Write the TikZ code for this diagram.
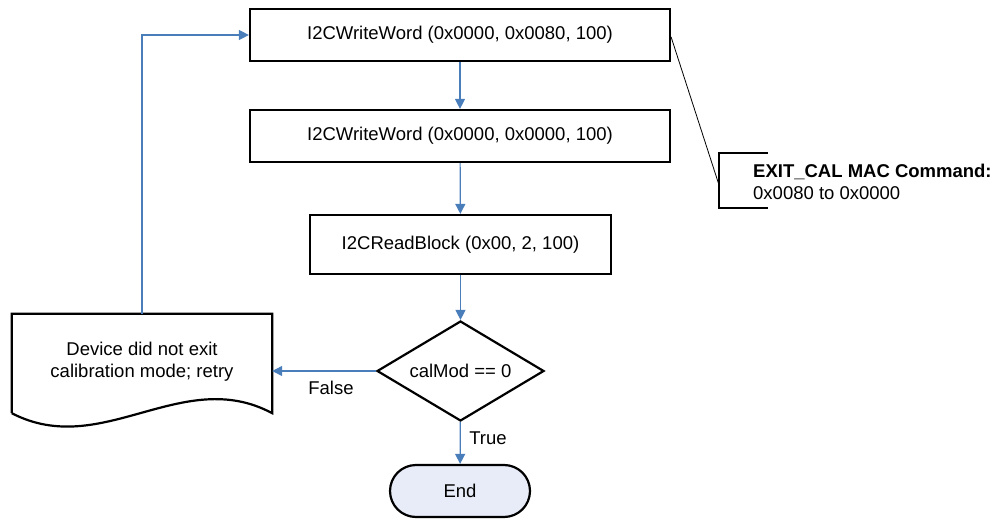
\documentclass[tikz,border=0pt]{standalone}
\usepackage{fontspec}
\setmainfont{Liberation Sans}
\usetikzlibrary{shapes.geometric,arrows.meta}
\definecolor{flowblue}{RGB}{74,126,187}
\definecolor{endfill}{RGB}{232,236,248}
\tikzset{
  procbox/.style={draw=black,line width=2.2pt,rectangle,inner sep=0pt},
  flow/.style={draw=flowblue,line width=1.2pt,-{Triangle[length=10pt,width=10pt]}},
  lbl/.style={inner sep=0pt,font=\fontsize{18.5}{21.5}\selectfont},
}
\begin{document}
\begin{tikzpicture}[x=1pt,y=-1pt,font=\fontsize{18.5}{21.5}\selectfont]
\useasboundingbox (0,0) rectangle (998,521);
\node[procbox,minimum width=420pt,minimum height=52pt] (b1) at (460,35) {I2CWriteWord (0x0000, 0x0080, 100)};
\node[procbox,minimum width=420pt,minimum height=52pt] (b2) at (460,136) {I2CWriteWord (0x0000, 0x0000, 100)};
\node[procbox,minimum width=301pt,minimum height=59pt] (b3) at (460.5,244.5) {I2CReadBlock (0x00, 2, 100)};
\node[diamond,draw=black,line width=2.2pt,inner sep=0pt,aspect=1.67,minimum width=167pt,minimum height=100pt] (dec) at (460.5,371) {calMod == 0};
\node[draw=black,fill=endfill,line width=2.2pt,rounded corners=26pt,minimum width=140pt,minimum height=52pt,inner sep=0pt] (endn) at (460,491) {End};
% document shape
\node[minimum width=260pt,minimum height=99pt,inner sep=0pt] (doc) at (142,363.5) {};
\draw[line width=2.2pt,line join=miter] (doc.south west) -- (doc.north west) -- (doc.north east) -- (doc.south east)
  .. controls (182,365) and (102,460) .. (doc.south west);
\node[lbl,align=center] (doctext) at (142,361.5) {Device did not exit\\calibration mode; retry};
% connectors
\draw[flow] (b1) -- (b2);
\draw[flow] (b2) -- (b3);
\draw[flow] (b3) -- (dec);
\draw[flow] (dec) -- (endn);
\draw[flow] (dec.west) -- (dec.west -| doc.east);
\draw[flow] (doc.north) |- (b1.west);
\node[lbl] (flab) at (331,388) {False};
\node[lbl] (tlab) at (488,438) {True};
% annotation
\coordinate (brtop) at (768,153);
\coordinate (brbot) at (768,208);
\coordinate (brmid) at (719,185);
\draw[line width=2.2pt] (brtop) -- (719,153) -- (719,208) -- (brbot);
\draw[line width=0.8pt] (b1.east |- 0,37) -- (brmid);
\node[lbl,anchor=west,align=left] (note) at (753,182) {\textbf{EXIT\_CAL MAC Command:}\\0x0080 to 0x0000};
\end{tikzpicture}
\end{document}
